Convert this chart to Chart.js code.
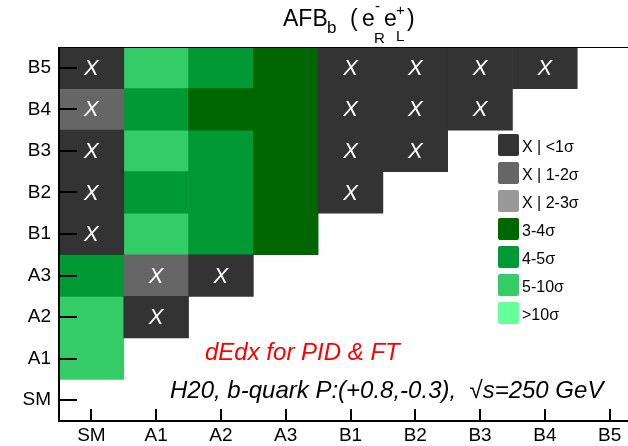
<!DOCTYPE html>
<html>
<head>
<meta charset="utf-8">
<script src="https://cdn.jsdelivr.net/npm/chart.js@4.4.0/dist/chart.umd.min.js"></script>
<style>
  html, body { margin: 0; padding: 0; background: #fff; overflow: hidden; }
  canvas { display: block; }
</style>
</head>
<body>
<canvas id="chartAfb" width="650" height="446"></canvas>
<script>
// ============= DATOS =============
const xLabels = ['SM', 'A1', 'A2', 'A3', 'B1', 'B2', 'B3', 'B4', 'B5'];
const yLabels = ['SM', 'A1', 'A2', 'A3', 'B1', 'B2', 'B3', 'B4', 'B5']; // de abajo hacia arriba

// clases de significancia (indice en classLabels), -1 = sin entrada
const classLabels = ['X | <1σ', 'X | 1-2σ', 'X | 2-3σ', '3-4σ', '4-5σ', '5-10σ', '>10σ'];
const classMarked = [true, true, true, false, false, false, false];

// una fila por cada modelo del eje y, columnas en el orden de xLabels
const rowSM = [-1, -1, -1, -1, -1, -1, -1, -1, -1];
const rowA1 = [5, -1, -1, -1, -1, -1, -1, -1, -1];
const rowA2 = [5, 0, -1, -1, -1, -1, -1, -1, -1];
const rowA3 = [4, 1, 0, -1, -1, -1, -1, -1, -1];
const rowB1 = [0, 5, 4, 3, -1, -1, -1, -1, -1];
const rowB2 = [0, 4, 4, 3, 0, -1, -1, -1, -1];
const rowB3 = [0, 5, 4, 3, 0, 0, -1, -1, -1];
const rowB4 = [1, 4, 3, 3, 0, 0, 0, -1, -1];
const rowB5 = [0, 5, 4, 3, 0, 0, 0, 0, -1];

const rows = [rowSM, rowA1, rowA2, rowA3, rowB1, rowB2, rowB3, rowB4, rowB5];

// estilos
const classColors = ['#333333', '#666666', '#999999', '#006600', '#009933', '#33cc66', '#66ff99'];
const FONT = '"Liberation Sans", Arial, Helvetica, sans-serif';

function cellsFor(c) {
  const out = [];
  rows.forEach((row, r) => {
    row.forEach((v, i) => {
      if (v === c) out.push({ x: xLabels[i], y: [r - 0.5, r + 0.5] });
    });
  });
  return out;
}

// ============= DIBUJO EXTRA =============
function txt(ctx, s, x, y, size, opts = {}) {
  ctx.font = `${opts.italic ? 'italic ' : ''}${size}px ${FONT}`;
  ctx.fillStyle = opts.color || '#000';
  ctx.textAlign = opts.align || 'left';
  ctx.textBaseline = opts.baseline || 'alphabetic';
  ctx.fillText(s, x, y);
}

const framePlugin = {
  id: 'frame',
  afterDraw(chart) {
    const { ctx, chartArea: a, scales: { x, y } } = chart;
    ctx.save();

    // X en celdas sin significancia
    rows.forEach((row, r) => {
      row.forEach((v, i) => {
        if (v >= 0 && classMarked[v]) {
          txt(ctx, 'X', x.getPixelForValue(i), y.getPixelForValue(r) + 1, 22,
            { italic: true, color: '#fff', align: 'center', baseline: 'middle' });
        }
      });
    });

    // marco y ejes
    ctx.strokeStyle = '#000';
    ctx.lineWidth = 1;
    ctx.beginPath();
    ctx.moveTo(a.left, a.top + 0.5);
    ctx.lineTo(chart.width, a.top + 0.5);
    ctx.stroke();

    ctx.lineWidth = 2;
    ctx.beginPath();
    ctx.moveTo(a.left, a.top);
    ctx.lineTo(a.left, a.bottom + 1);
    ctx.moveTo(a.left - 1, a.bottom);
    ctx.lineTo(chart.width, a.bottom);
    xLabels.forEach((_, i) => {
      const px = Math.round(x.getPixelForValue(i));
      ctx.moveTo(px, a.bottom);
      ctx.lineTo(px, a.bottom - 12);
    });
    yLabels.forEach((_, r) => {
      const py = Math.round(y.getPixelForValue(r));
      ctx.moveTo(a.left, py);
      ctx.lineTo(a.left + 18, py);
    });
    ctx.stroke();

    // leyenda
    classLabels.forEach((label, k) => {
      const top = 134 + k * 28;
      ctx.fillStyle = classColors[k];
      ctx.beginPath();
      ctx.roundRect(498, top, 21, 22, 2);
      ctx.fill();
      txt(ctx, label, 522, top + 18, 16);
    });

    // titulo AFB_b (e-_R e+_L)
    txt(ctx, 'AFB', 283, 26, 23);
    txt(ctx, 'b', 327, 33, 17);
    txt(ctx, '(', 350, 26, 23);
    txt(ctx, 'e', 362, 26, 23);
    txt(ctx, '-', 375, 11, 15);
    txt(ctx, 'R', 374, 43, 15);
    txt(ctx, 'e', 384, 26, 23);
    txt(ctx, '+', 396, 15, 15);
    txt(ctx, 'L', 396, 41, 15);
    txt(ctx, ')', 407, 26, 23);

    // anotaciones
    txt(ctx, 'dEdx for PID & FT', 205, 360, 24, { italic: true, color: '#ff0000' });
    txt(ctx, 'H20, b-quark P:(+0.8,-0.3),  √s=250 GeV', 170, 398, 24, { italic: true });

    ctx.restore();
  }
};

// ============= GRAFICA =============
const datasets = classLabels.map((label, c) => ({
  label,
  data: cellsFor(c),
  backgroundColor: classColors[c],
  borderWidth: 0,
  barPercentage: 1,
  categoryPercentage: 1,
  grouped: false
}));

new Chart(document.getElementById('chartAfb'), {
  type: 'bar',
  data: { labels: xLabels, datasets },
  options: {
    responsive: false,
    animation: false,
    devicePixelRatio: 1,
    layout: { padding: { top: 47, right: 8, left: 0, bottom: 0 } },
    plugins: { legend: { display: false }, tooltip: { enabled: false } },
    scales: {
      x: {
        type: 'category',
        offset: true,
        grid: { display: false, drawTicks: false },
        border: { display: false },
        ticks: { color: '#000', font: { family: FONT, size: 19 }, padding: 3, maxRotation: 0, autoSkip: false },
        afterFit: s => { s.height = 25; }
      },
      y: {
        type: 'linear',
        min: -0.5,
        max: 8.5,
        grid: { display: false, drawTicks: false },
        border: { display: false },
        afterBuildTicks: s => { s.ticks = yLabels.map((_, i) => ({ value: i })); },
        ticks: { color: '#000', font: { family: FONT, size: 19 }, padding: 8, autoSkip: false,
          callback: v => yLabels[v] ?? '' },
        afterFit: s => { s.width = 59; }
      }
    }
  },
  plugins: [framePlugin]
});
</script>
</body>
</html>
